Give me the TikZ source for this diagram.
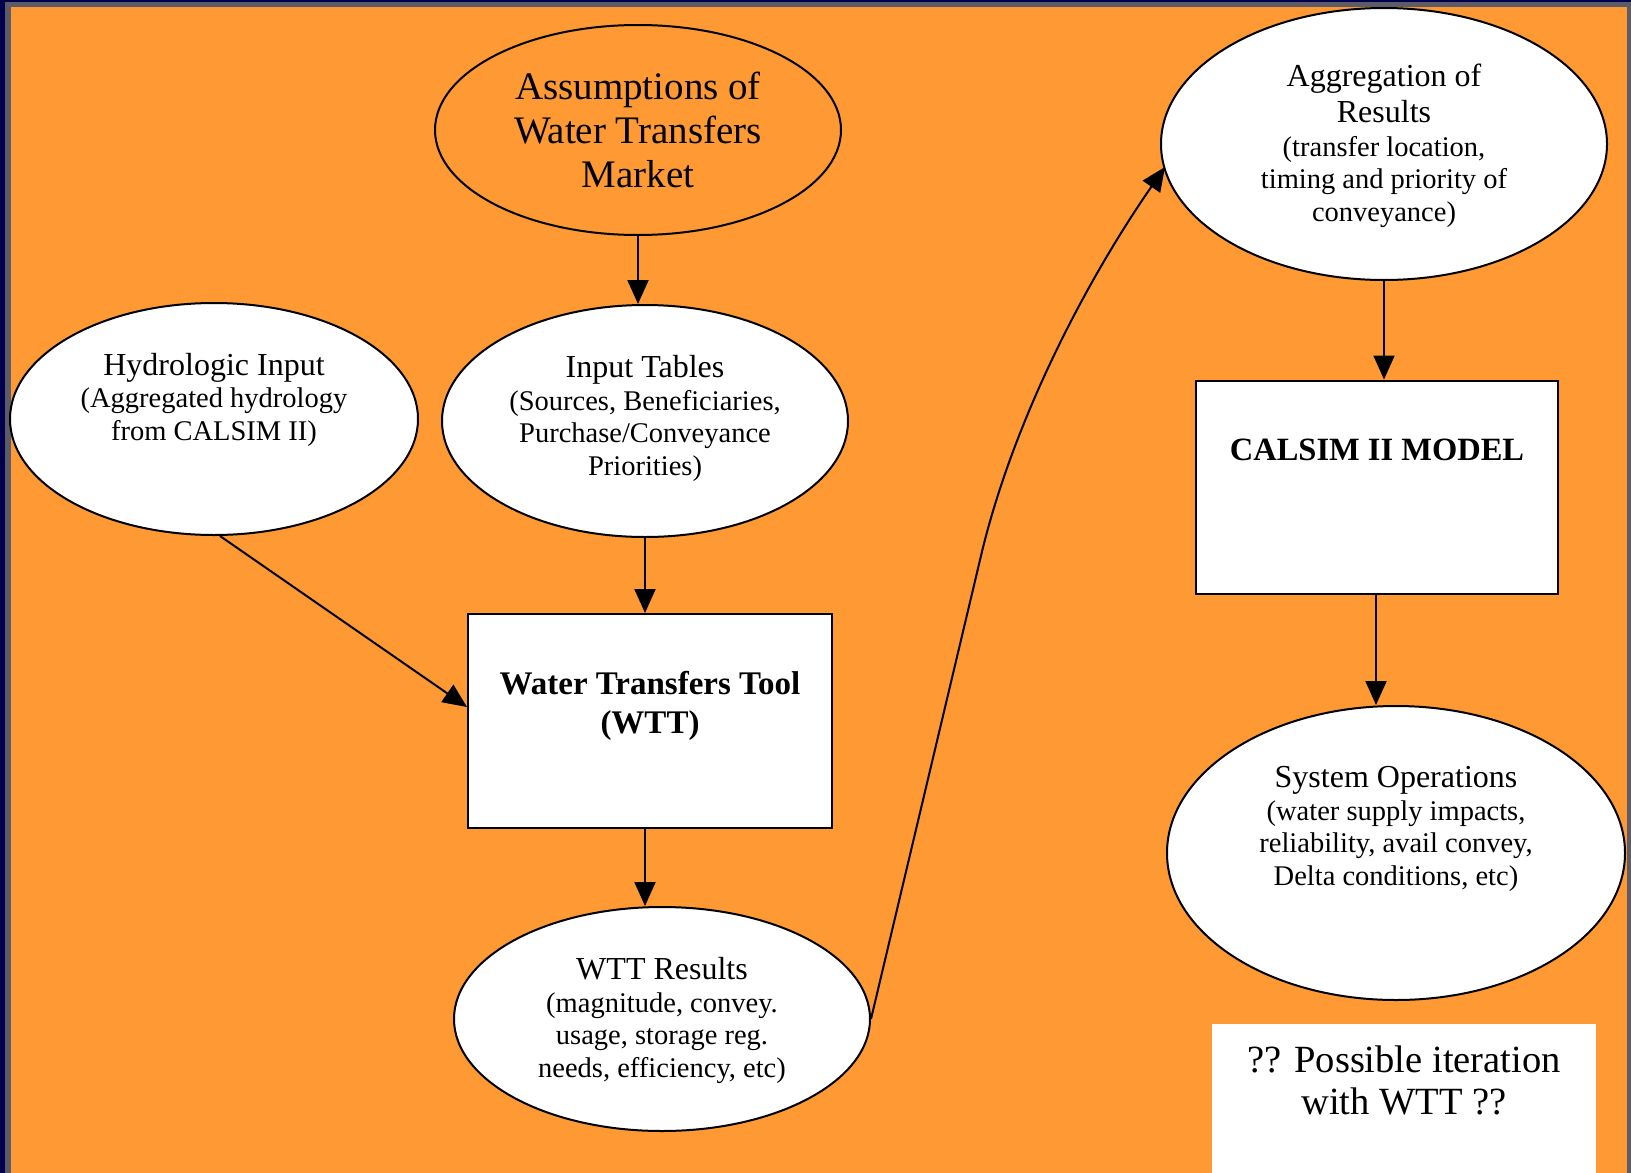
\documentclass[tikz,border=0pt]{standalone}
\usepackage{fontspec}
\setmainfont{Liberation Serif}
\usetikzlibrary{shapes.geometric,arrows.meta}
\definecolor{bgorange}{HTML}{FE9934}
\definecolor{navy}{HTML}{00004C}
\definecolor{edgegray}{HTML}{5C5C68}
\begin{document}
\begin{tikzpicture}[x=1pt,y=-1pt,
  oval/.style={ellipse,draw=black,line width=2pt,fill=white,inner sep=0pt},
  ovalorange/.style={ellipse,draw=black,line width=2pt,fill=bgorange,inner sep=0pt},
  boxw/.style={rectangle,draw=black,line width=2pt,fill=white,inner sep=0pt},
  bigtxt/.style={align=center,anchor=base,inner sep=0pt,font=\fontsize{39}{44}\selectfont},
  titletxt/.style={align=center,anchor=base,inner sep=0pt,font=\fontsize{32}{36}\selectfont},
  subtxt/.style={align=center,anchor=base,inner sep=0pt,font=\fontsize{28.5}{32.5}\selectfont},
  boldtxt/.style={align=center,anchor=base,inner sep=0pt,font=\bfseries\fontsize{33}{39}\selectfont},
  arr/.style={line width=2pt,-{Triangle[length=24pt,width=21pt]}}]
\useasboundingbox (0,0) rectangle (1631,1173);
\fill[navy] (0,0) rectangle (1631,1173);
\fill[edgegray] (5,2) rectangle (1631,1173);
\fill[bgorange] (11,7) rectangle (1627,1173);

% shapes
\node[ovalorange,minimum width=406pt,minimum height=210pt] (assum) at (638,130) {};
\node[oval,minimum width=408pt,minimum height=232pt] (hydro) at (214,419) {};
\node[oval,minimum width=406pt,minimum height=232pt] (input) at (645,421) {};
\node[boxw,minimum width=364pt,minimum height=214pt] (wtt) at (650,721) {};
\node[oval,minimum width=416pt,minimum height=224pt] (res) at (662,1019) {};
\node[oval,minimum width=446pt,minimum height=272pt] (agg) at (1384,144) {};
\node[boxw,minimum width=362pt,minimum height=213pt] (cal) at (1377,487) {};
\node[oval,minimum width=458pt,minimum height=294pt] (sys) at (1396,853) {};
\node[fill=white,minimum width=384pt,minimum height=150pt,inner sep=0pt] (iter) at (1404,1099) {};

% texts (anchor base = baseline of the last line)
\node[bigtxt] (assumT) at (638,187) {Assumptions of\\Water Transfers\\Market};
\node[titletxt] (hydroT) at (214,375) {Hydrologic Input};
\node[subtxt] (hydroS) at (214,440) {(Aggregated hydrology\\from CALSIM II)};
\node[titletxt] (inputT) at (645,377) {Input Tables};
\node[subtxt] (inputS) at (645,475) {(Sources, Beneficiaries,\\Purchase/Conveyance\\Priorities)};
\node[boldtxt] (wttT) at (650,733) {Water Transfers Tool\\(WTT)};
\node[titletxt] (resT) at (662,979) {WTT Results};
\node[subtxt] (resS) at (662,1077) {(magnitude, convey.\\usage, storage reg.\\needs, efficiency, etc)};
\node[titletxt] (aggT) at (1384,122) {Aggregation of\\Results};
\node[subtxt] (aggS) at (1384,221) {(transfer location,\\timing and priority of\\conveyance)};
\node[boldtxt,font=\bfseries\fontsize{32.5}{39}\selectfont] (calT) at (1377,460) {CALSIM II MODEL};
\node[titletxt] (sysT) at (1396,787) {System Operations};
\node[subtxt] (sysS) at (1396,885) {(water supply impacts,\\reliability, avail convey,\\Delta conditions, etc)};
\node[bigtxt,font=\fontsize{38.5}{42}\selectfont] (iterT) at (1404,1114) {?? Possible iteration\\with WTT ??};

% connectors
\coordinate (aggin) at (1165,167);
\draw[arr] (assum.south) -- (assum.south |- input.north);
\draw[arr] (input.south) -- (wtt.north -| input.south);
\draw[arr] ([xshift=6pt]hydro.south) -- (wtt.west |- 0,707);
\draw[arr] (wtt.south -| 645,0) -- (res.north -| 645,0);
\draw[arr] (res.east) -- (980,560) .. controls (1010,430) and (1080,290) .. (aggin);
\draw[arr] (agg.south) -- (cal.north -| agg.south);
\draw[arr] ([xshift=-20pt]cal.south -| sys.north) -- ([xshift=-20pt]sys.north);
\end{tikzpicture}
\end{document}
